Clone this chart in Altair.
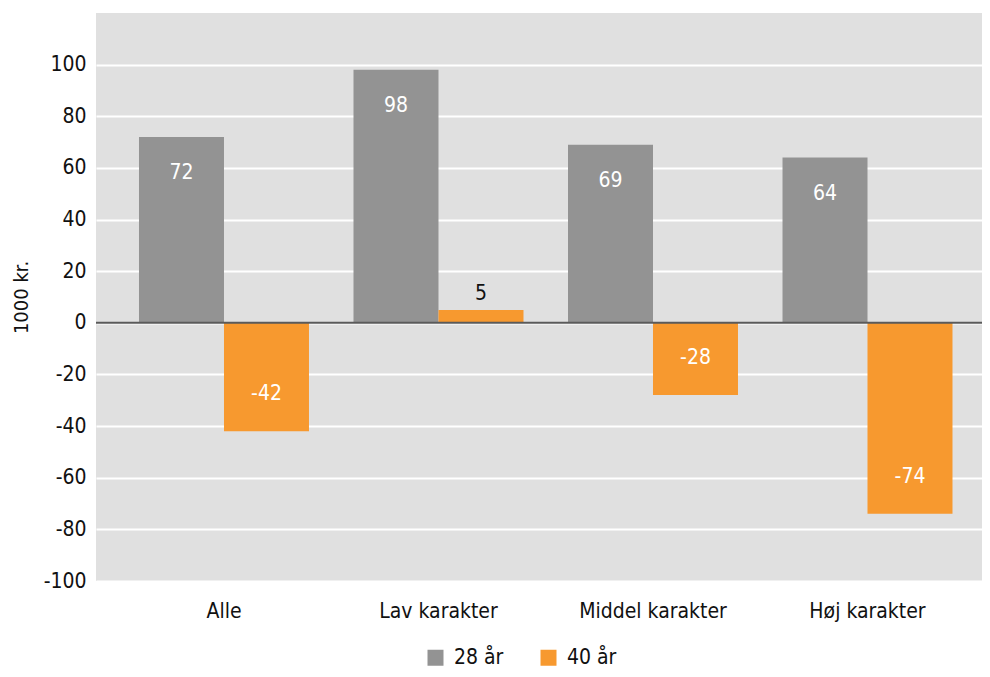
import altair as alt
import pandas as pd

categories = ["Alle", "Lav karakter", "Middel karakter", "Høj karakter"]
series = ["28 år", "40 år"]
values_28 = [72, 98, 69, 64]
values_40 = [-42, 5, -28, -74]
colors = ["#939393", "#F7992F"]
y_ticks = list(range(-100, 101, 20))

rows = []
for c, a, b in zip(categories, values_28, values_40):
    rows.append({"cat": c, "series": series[0], "value": a})
    rows.append({"cat": c, "series": series[1], "value": b})
df = pd.DataFrame(rows)

FONT = "DejaVu Sans Condensed, Roboto Condensed, Roboto, sans-serif"
FS = 21

x = alt.X("cat:N", sort=categories,
          scale=alt.Scale(paddingInner=0.2075, paddingOuter=0.169, align=0.593),
          axis=alt.Axis(title=None, labelAngle=0, ticks=False, domain=False,
                        labelPadding=19, labelFontSize=FS, labelColor="#111",
                        labelFont=FONT, grid=False))
xo = alt.XOffset("series:N", sort=series,
                 scale=alt.Scale(paddingInner=0, paddingOuter=0))
y = alt.Y("value:Q", scale=alt.Scale(domain=[-100, 120], nice=False),
          axis=alt.Axis(values=y_ticks, title="1000 kr.", grid=True,
                        labelExpr="toString(datum.value)",
                        gridColor="white", gridWidth=2, domain=False, ticks=False,
                        labelPadding=10, labelFontSize=FS, labelColor="#111",
                        labelFont=FONT, titleFont=FONT, titleFontSize=20,
                        titleFontWeight="normal", titleColor="#111", titlePadding=12))

base = alt.Chart(df).transform_calculate(label="toString(datum.value)")

bars = base.mark_bar().encode(
    x=x, xOffset=xo, y=y,
    color=alt.Color("series:N", sort=series,
                    scale=alt.Scale(domain=series, range=colors),
                    legend=alt.Legend(orient="none", legendX=329, legendY=634,
                                      direction="horizontal", title=None,
                                      symbolType="square", symbolSize=256,
                                      symbolStrokeWidth=0, symbolOpacity=1,
                                      labelFontSize=FS, labelFont=FONT,
                                      labelColor="#111", labelOffset=8,
                                      columnPadding=34)),
)

zero = alt.Chart(pd.DataFrame({"z": [0]})).mark_rule(color="#5a5a5a", strokeWidth=2).encode(y="z:Q")

pos_in = base.transform_filter("datum.value >= 10").mark_text(
    color="white", fontSize=FS, font=FONT, dy=36, baseline="middle").encode(
    x=x, xOffset=xo, y=alt.Y("value:Q"), text="label:N")
neg_in = base.transform_filter("datum.value <= -10").mark_text(
    color="white", fontSize=FS, font=FONT, dy=-37, baseline="middle").encode(
    x=x, xOffset=xo, y=alt.Y("value:Q"), text="label:N")
small = base.transform_filter("datum.value > -10 && datum.value < 10").mark_text(
    color="#111", fontSize=FS, font=FONT, dy=-16, baseline="middle").encode(
    x=x, xOffset=xo, y=alt.Y("value:Q"), text="label:N")

chart = alt.layer(bars, zero, pos_in, neg_in, small).properties(
    width=886, height=568,
    autosize=alt.AutoSizeParams(type="none"),
    padding={"left": 88, "top": 5, "right": 0, "bottom": 88},
).configure_view(fill="#E0E0E0", stroke=None)

chart.save("out.html", embed_options={"renderer": "svg", "actions": False})
